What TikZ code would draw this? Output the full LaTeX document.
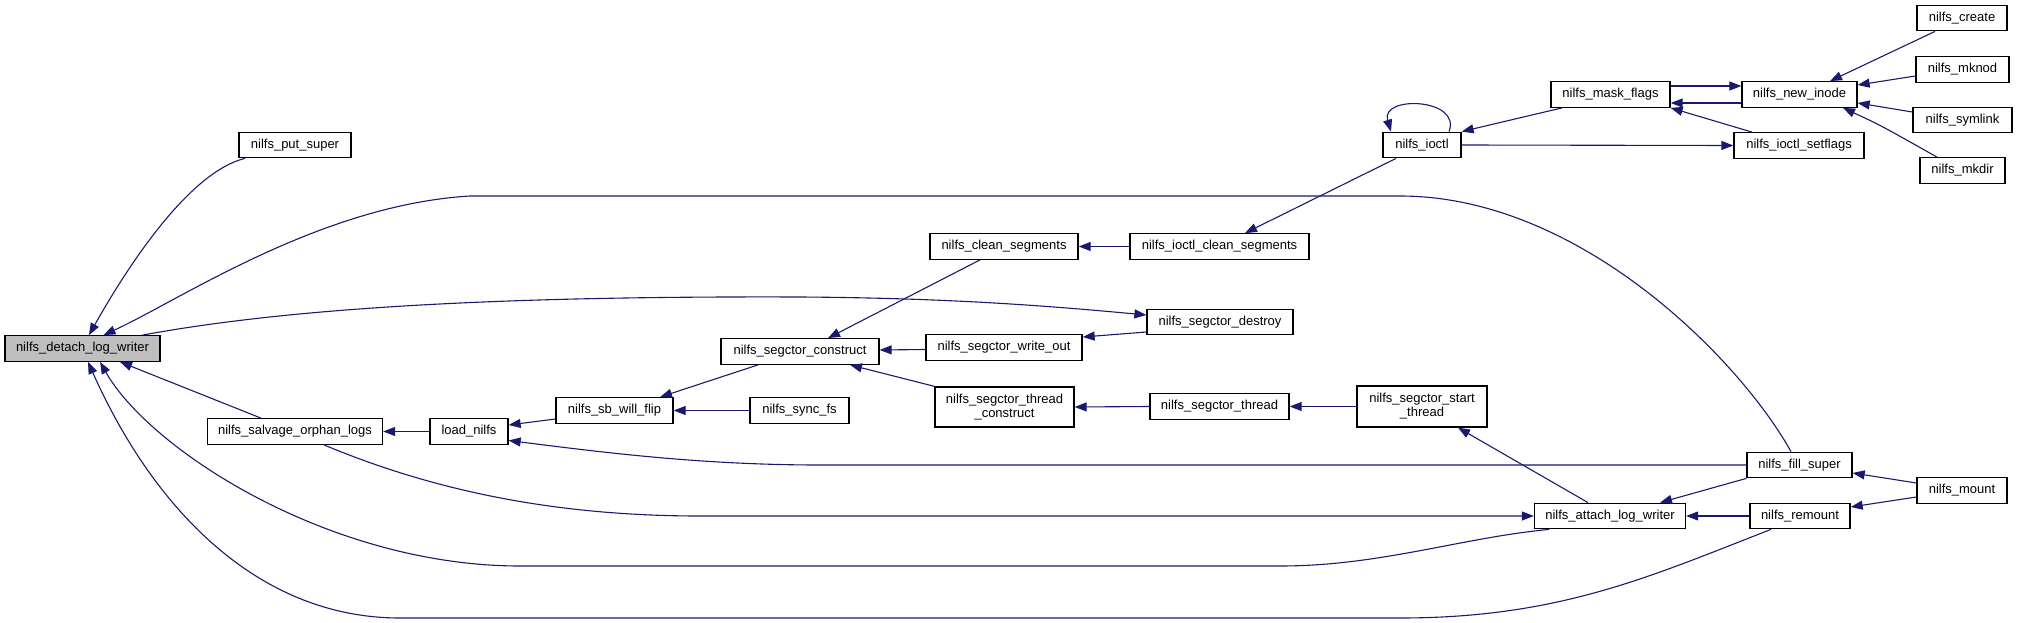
\documentclass[tikz,border=0pt]{standalone}
\usepackage{fontspec}
\setmainfont{Liberation Sans}
\usetikzlibrary{arrows.meta}
\definecolor{edgeblue}{HTML}{191970}
\definecolor{rootfill}{HTML}{BFBFBF}

\begin{document}
\begin{tikzpicture}[
    x=1pt, y=-1pt,
    every node/.style={font=\fontsize{13}{14}\selectfont},
    fnode/.style={
        draw=black,
        line width=1.3pt,
        fill=white,
        minimum height=25.5pt,
        inner sep=2pt,
        align=center,
    },
    rootnode/.style={fnode,fill=rootfill},
    call/.style={draw=edgeblue,line width=1.1pt,{Triangle[length=12pt,width=9pt]}-},
    callfwd/.style={draw=edgeblue,line width=1.1pt,-{Triangle[length=12pt,width=9pt]}},
]
\useasboundingbox (0,0) rectangle (2017,623);

% === Root ===
\node[rootnode,minimum width=155pt] (detach) at (82.5,348.5) {nilfs\_detach\_log\_writer};

% === Column 1 ===
\node[fnode,minimum width=112pt] (putsuper) at (295,145) {nilfs\_put\_super};
\node[fnode,minimum width=175pt] (salvage) at (295,431.5) {nilfs\_salvage\_orphan\_logs};

% === Column 2 ===
\node[fnode,minimum width=78pt] (loadnilfs) at (469,431.5) {load\_nilfs};
\node[fnode,minimum width=117pt] (sbflip) at (614.5,410.5) {nilfs\_sb\_will\_flip};

% === Column 3 ===
\node[fnode,minimum width=158pt] (construct) at (800,351.5) {nilfs\_segctor\_construct};
\node[fnode,minimum width=99pt] (syncfs) at (799.5,410.5) {nilfs\_sync\_fs};

% === Column 4 ===
\node[fnode,minimum width=148pt] (cleanseg) at (1004,246.5) {nilfs\_clean\_segments};
\node[fnode,minimum width=156pt] (writeout) at (1004,347.5) {nilfs\_segctor\_write\_out};
\node[fnode,minimum width=139pt,minimum height=40pt] (threadcons) at (1004.5,407) {nilfs\_segctor\_thread\\\_construct};

% === Column 5 ===
\node[fnode,minimum width=179pt] (ioctlclean) at (1219.5,246.5) {nilfs\_ioctl\_clean\_segments};
\node[fnode,minimum width=146pt] (destroy) at (1220,322) {nilfs\_segctor\_destroy};
\node[fnode,minimum width=139pt] (segthread) at (1219.5,406.5) {nilfs\_segctor\_thread};

% === Column 6 ===
\node[fnode,minimum width=78pt] (ioctl) at (1422,145) {nilfs\_ioctl};
\node[fnode,minimum width=130pt,minimum height=41pt] (startthread) at (1422,406.5) {nilfs\_segctor\_start\\\_thread};

% === Column 7 ===
\node[fnode,minimum width=119pt] (maskflags) at (1610.5,94.5) {nilfs\_mask\_flags};
\node[fnode,minimum width=151pt] (attach) at (1610,516) {nilfs\_attach\_log\_writer};

% === Column 8 ===
\node[fnode,minimum width=115pt] (newinode) at (1799.5,94.5) {nilfs\_new\_inode};
\node[fnode,minimum width=130pt] (setflags) at (1799,145.5) {nilfs\_ioctl\_setflags};
\node[fnode,minimum width=105pt] (fillsuper) at (1799.5,465) {nilfs\_fill\_super};
\node[fnode,minimum width=100pt] (remount) at (1800,516) {nilfs\_remount};

% === Column 9 ===
\node[fnode,minimum width=90pt] (create) at (1962,18) {nilfs\_create};
\node[fnode,minimum width=93pt] (mknod) at (1962.5,69.5) {nilfs\_mknod};
\node[fnode,minimum width=99pt] (symlink) at (1962.5,120) {nilfs\_symlink};
\node[fnode,minimum width=85pt] (mkdir) at (1962.5,170.5) {nilfs\_mkdir};
\node[fnode,minimum width=90pt] (mount) at (1962,490.5) {nilfs\_mount};

% === Edges into the root ===
\draw[call] ([xshift=6.5pt]detach.north) .. controls (120,280) and (185,173) .. ([xshift=-50pt]putsuper.south);
\draw[call] ([xshift=21pt]detach.north) .. controls (180,300) and (320,205) .. (470,196)
    -- (1400,196) .. controls (1580,196) and (1740,360) .. ([xshift=-8.5pt]fillsuper.north);
\draw[callfwd] ([xshift=60pt]detach.north) .. controls (300,306) and (520,296) .. (800,297)
    .. controls (950,298) and (1050,306) .. ([yshift=7pt]destroy.west);
\draw[call] ([xshift=37.5pt]detach.south) -- ([xshift=-34pt]salvage.north);
\draw[call] ([xshift=17.5pt]detach.south) .. controls (150,450) and (330,566) .. (520,566)
    -- (1280,566) .. controls (1380,566) and (1460,538) .. ([xshift=-61pt]attach.south);
\draw[call] ([xshift=5.5pt]detach.south) .. controls (155,512) and (260,618) .. (400,618)
    -- (1400,618) .. controls (1560,618) and (1651,576) .. ([xshift=-29pt]remount.south);

% === Lower chain ===
\draw[callfwd] ([xshift=29pt]salvage.south) .. controls (420,485) and (540,516) .. (700,516) -- (attach.west);
\draw[call] (salvage.east) -- (loadnilfs.west);
\draw[call] ([yshift=6.5pt]loadnilfs.east) -- ([yshift=-8.5pt]sbflip.west);
\draw[call] ([yshift=-9pt]loadnilfs.east) .. controls (600,452) and (700,465) .. (820,465) -- (fillsuper.west);
\draw[call] ([xshift=45.5pt]sbflip.north) -- ([xshift=-42pt]construct.south);
\draw[call] (sbflip.east) -- (syncfs.west);

% === Segment constructor ===
\draw[call] ([xshift=28pt]construct.north) -- ([xshift=-24pt]cleanseg.south);
\draw[call] ([yshift=1.5pt]construct.east) -- ([yshift=-2pt]writeout.west);
\draw[call] ([xshift=50pt]construct.south) -- (threadcons.north west);
\draw[call] (cleanseg.east) -- (ioctlclean.west);
\draw[call] ([xshift=25.5pt]ioctlclean.north) -- ([xshift=-26pt]ioctl.south);
\draw[call] ([yshift=10.5pt]writeout.east) -- ([yshift=-10pt]destroy.west);
\draw[call] (threadcons.east) -- (segthread.west);
\draw[call] (segthread.east) -- (startthread.west);
\draw[call] ([xshift=36pt]startthread.south) -- ([xshift=-22pt]attach.north);

% === Mount side ===
\draw[call] ([xshift=50pt]attach.north) -- (fillsuper.south west);
\draw[call] (attach.east) -- (remount.west);
\draw[call] ([yshift=-8pt]fillsuper.east) -- ([yshift=7.5pt]mount.west);
\draw[call] ([yshift=9pt]remount.east) -- ([yshift=-6.5pt]mount.west);

% === ioctl and inode flags ===
\draw[call] ([xshift=-31pt]ioctl.north) .. controls (1380,95) and (1462,98) .. ([xshift=27pt]ioctl.north);
\draw[call] (ioctl.north east) -- ([xshift=-48.5pt]maskflags.south);
\draw[callfwd] (ioctl.east) -- (setflags.west);
\draw[callfwd] ([yshift=8.5pt]maskflags.east) -- ([yshift=8.5pt]newinode.west);
\draw[call] ([yshift=-8.5pt]maskflags.east) -- ([yshift=-8.5pt]newinode.west);
\draw[call] (maskflags.south east) -- ([xshift=-47pt]setflags.north);
\draw[call] ([xshift=30.5pt]newinode.north) -- ([xshift=-27pt]create.south);
\draw[call] ([yshift=9.5pt]newinode.east) -- ([yshift=-6.5pt]mknod.west);
\draw[call] ([yshift=-8.5pt]newinode.east) -- ([yshift=8pt]symlink.west);
\draw[call] ([xshift=43.5pt]newinode.south) .. controls (1880,125) .. ([xshift=-25.5pt]mkdir.north);

\end{tikzpicture}
\end{document}
